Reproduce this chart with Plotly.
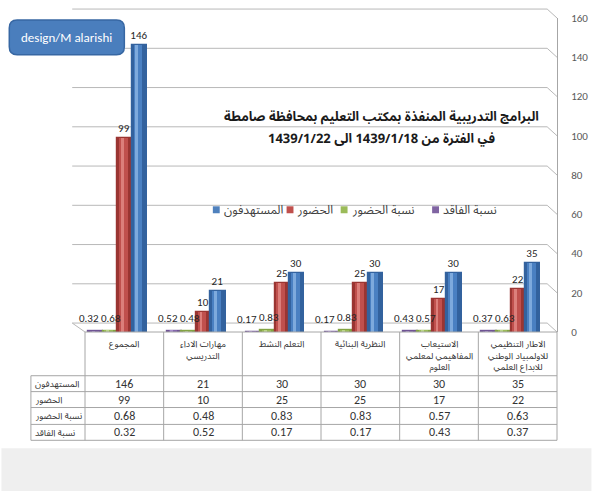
import plotly.graph_objects as go

# ---------------- data ----------------
categories = [
    "المجموع",
    "مهارات الاداء التدريسي",
    "التعلم النشط",
    "النظرية البنائية",
    "الاستيعاب المفاهيمي لمعلمي العلوم",
    "الاطار التنظيمي للاولمبياد الوطني للابداع العلمي",
]
header_labels = [
    "المجموع",
    "مهارات الاداء<br>التدريسي",
    "التعلم النشط",
    "النظرية البنائية",
    "الاستيعاب<br>المفاهيمي لمعلمي<br>العلوم",
    "الاطار التنظيمي<br>للاولمبياد الوطني<br>للابداع العلمي",
]
targeted = [146, 21, 30, 30, 30, 35]          # المستهدفون
attended = [99, 10, 25, 25, 17, 22]           # الحضور
attend_ratio = [0.68, 0.48, 0.83, 0.83, 0.57, 0.63]  # نسبة الحضور
loss_ratio = [0.32, 0.52, 0.17, 0.17, 0.43, 0.37]    # نسبة الفاقد

series_names = ["نسبة الفاقد", "نسبة الحضور", "الحضور", "المستهدفون"]
series_values = [loss_ratio, attend_ratio, attended, targeted]
table_rows = ["المستهدفون", "الحضور", "نسبة الحضور", "نسبة الفاقد"]
table_values = [targeted, attended, attend_ratio, loss_ratio]
y_ticks = [0, 20, 40, 60, 80, 100, 120, 140, 160]

title_lines = ["البرامج التدريبية المنفذة بمكتب التعليم بمحافظة صامطة",
               "في الفترة من 1439/1/18 الى 1439/1/22"]
badge_text = "design/M alarishi"

# ---------------- styling ----------------
shades = [  # base, mid, highlight
    ("#6f5494", "#8466ab", "#a58ccb"),
    ("#83a343", "#9bbb59", "#bcd68a"),
    ("#9a3532", "#c0504d", "#dc7f7b"),
    ("#33629e", "#4a80c2", "#7eaadd"),
]
legend_colors = ["#8064a2", "#9bbb59", "#c0504d", "#4f81bd"]
slot_offsets = [-0.46, -0.275, -0.09, 0.095]
bar_w = 0.18
small_label_shift = [-35, -13]   # px offsets (from category centre) for the two ratio series labels

W_FIG, H_FIG = 600, 492
L, R, T, B = 85, 565, 16, 332
PW, PH = R - L, B - T


def X(px):
    return (px - L) / PW


def Y(py):
    return (B - py) / PH


ar_font = "Noto Sans Arabic UI, Noto Sans Arabic, Noto Naskh Arabic, DejaVu Sans Condensed, DejaVu Sans"
num_font = "Calibri, Carlito, Liberation Sans, Arial"

fig = go.Figure()
annotations = []

# main bars
for i, (name, vals) in enumerate(zip(series_names, series_values)):
    base, mid, hi = shades[i]
    big = i >= 2
    fig.add_trace(go.Bar(
        x=categories, y=vals, name=name, showlegend=False,
        offset=slot_offsets[i], width=bar_w,
        marker=dict(color=base, line=dict(color=base, width=2.2)),
        text=[str(v) for v in vals] if big else None,
        textposition="outside" if big else "none",
        textfont=dict(size=11, color="#262626", family=num_font),
        constraintext="none", cliponaxis=False, hoverinfo="skip",
    ))
    if not big:
        for c, v in zip(categories, vals):
            annotations.append(dict(xref="x", yref="y", x=c, y=v, text=str(v),
                                    xanchor="center", yanchor="bottom",
                                    xshift=small_label_shift[i], yshift=4, showarrow=False,
                                    font=dict(size=11, color="#262626", family=num_font)))
# cylinder shading
for i, vals in enumerate(series_values):
    base, mid, hi = shades[i]
    fig.add_trace(go.Bar(
        x=categories, y=vals, showlegend=False,
        offset=slot_offsets[i] + 0.12 * bar_w, width=0.62 * bar_w,
        marker=dict(color=mid, line=dict(width=0)), hoverinfo="skip",
    ))
    fig.add_trace(go.Bar(
        x=categories, y=vals, showlegend=False,
        offset=slot_offsets[i] + 0.26 * bar_w, width=0.2 * bar_w,
        marker=dict(color=hi, line=dict(width=0)), hoverinfo="skip",
    ))

shapes = []
grid_col = "#b8b8b8"
depth = 9
# back-wall gridlines with perspective joint
for v in y_ticks:
    py_front = B - v * PH / 160
    py_back = py_front - depth
    shapes.append(dict(type="path", xref="paper", yref="paper",
                       path=f"M {X(72)},{Y(py_back)} L {X(555)},{Y(py_back)} L {X(R)},{Y(py_front)}",
                       line=dict(color=grid_col, width=1), layer="below"))
# floor left edge
shapes.append(dict(type="line", xref="paper", yref="paper",
                   x0=X(72), y0=Y(B - depth), x1=X(L), y1=Y(B),
                   line=dict(color=grid_col, width=1)))

# table grid
tcol = "#a6a6a6"
col_edges = [L + k * 80 for k in range(7)]
row_edges = [376, 392, 408, 425, 441]
shapes.append(dict(type="line", xref="paper", yref="paper",
                   x0=X(L), y0=Y(B), x1=X(R), y1=Y(B), line=dict(color=tcol, width=1)))
for ry in row_edges:
    shapes.append(dict(type="line", xref="paper", yref="paper",
                       x0=X(30), y0=Y(ry), x1=X(R), y1=Y(ry), line=dict(color=tcol, width=1)))
shapes.append(dict(type="line", xref="paper", yref="paper",
                   x0=X(30), y0=Y(376), x1=X(30), y1=Y(441), line=dict(color=tcol, width=1)))
for cx in col_edges:
    shapes.append(dict(type="line", xref="paper", yref="paper",
                       x0=X(cx), y0=Y(B), x1=X(cx), y1=Y(441), line=dict(color=tcol, width=1)))

# bottom grey band
shapes.append(dict(type="rect", xref="paper", yref="paper",
                   x0=X(0), y0=Y(449), x1=X(W_FIG), y1=Y(H_FIG),
                   fillcolor="#efefef", line=dict(width=0), layer="below"))

# badge (rounded rectangle)
bx0, by0, bx1, by1, rr = 8, 18, 125, 53, 8
badge_path = (
    f"M {X(bx0 + rr)},{Y(by0)} L {X(bx1 - rr)},{Y(by0)} "
    f"Q {X(bx1)},{Y(by0)} {X(bx1)},{Y(by0 + rr)} "
    f"L {X(bx1)},{Y(by1 - rr)} Q {X(bx1)},{Y(by1)} {X(bx1 - rr)},{Y(by1)} "
    f"L {X(bx0 + rr)},{Y(by1)} Q {X(bx0)},{Y(by1)} {X(bx0)},{Y(by1 - rr)} "
    f"L {X(bx0)},{Y(by0 + rr)} Q {X(bx0)},{Y(by0)} {X(bx0 + rr)},{Y(by0)} Z"
)
shapes.append(dict(type="path", xref="paper", yref="paper", path=badge_path,
                   fillcolor="#4a7ebd", line=dict(color="#3767a3", width=1.5)))
annotations.append(dict(xref="paper", yref="paper", x=X((bx0 + bx1) / 2), y=Y((by0 + by1) / 2),
                        xanchor="center", yanchor="middle",
                        text=badge_text, showarrow=False,
                        font=dict(size=13, color="white", family="Calibri, Carlito, Open Sans, Arial")))

# title (two lines)
for line_txt, ly in zip(title_lines, [115, 137]):
    annotations.append(dict(xref="paper", yref="paper", x=X(387), y=Y(ly),
                            xanchor="center", yanchor="middle",
                            text="<b>" + line_txt + "</b>", showarrow=False,
                            font=dict(size=13, color="#1a1a1a", family=ar_font)))

# legend (drawn manually, order as in reference: blue, red, green, purple from left)
legend_sq_x = [215, 290, 345, 438]
legend_y = 209
for pos, idx in enumerate([3, 2, 1, 0]):
    sx = legend_sq_x[pos]
    shapes.append(dict(type="rect", xref="paper", yref="paper",
                       x0=X(sx), x1=X(sx + 7), y0=Y(legend_y - 3.5), y1=Y(legend_y + 3.5),
                       fillcolor=legend_colors[idx], line=dict(width=0)))
    annotations.append(dict(xref="paper", yref="paper", x=X(sx + 9), y=Y(legend_y),
                            xanchor="left", yanchor="middle", text=series_names[idx],
                            showarrow=False, font=dict(size=12, color="#404040", family=ar_font)))

# table header
for k, lab in enumerate(header_labels):
    annotations.append(dict(xref="paper", yref="paper", x=X(L + 40 + 80 * k), y=Y(335),
                            xanchor="center", yanchor="top", text=lab, showarrow=False,
                            font=dict(size=9, color="#333333", family=ar_font)))
# table rows
row_centers = [(row_edges[j] + row_edges[j + 1]) / 2 for j in range(4)]
for j, (rname, rvals) in enumerate(zip(table_rows, table_values)):
    annotations.append(dict(xref="paper", yref="paper", x=X(32), y=Y(row_centers[j]),
                            xanchor="left", yanchor="middle", text=rname, showarrow=False,
                            font=dict(size=9, color="#333333", family=ar_font)))
    for k, v in enumerate(rvals):
        annotations.append(dict(xref="paper", yref="paper", x=X(L + 40 + 80 * k), y=Y(row_centers[j]),
                                xanchor="center", yanchor="middle",
                                text=str(v), showarrow=False,
                                font=dict(size=12, color="#333333", family=num_font)))

fig.update_layout(
    width=W_FIG, height=H_FIG, autosize=False,
    margin=dict(l=L, r=W_FIG - R, t=T, b=H_FIG - B, pad=0),
    paper_bgcolor="white", plot_bgcolor="rgba(0,0,0,0)",
    barmode="overlay", bargap=0,
    showlegend=False,
    xaxis=dict(type="category", showticklabels=False, showgrid=False, zeroline=False,
               showline=False, ticks="", range=[-0.5, len(categories) - 0.5], fixedrange=True),
    yaxis=dict(side="right", range=[0, 160], tickvals=y_ticks, showgrid=False, zeroline=False,
               showline=True, linecolor="#a6a6a6", linewidth=1, ticks="",
               ticklabelstandoff=11,
               tickfont=dict(size=11, color="#595959", family=num_font),
               fixedrange=True),
    shapes=shapes, annotations=annotations,
)

fig.write_html("out.html")
